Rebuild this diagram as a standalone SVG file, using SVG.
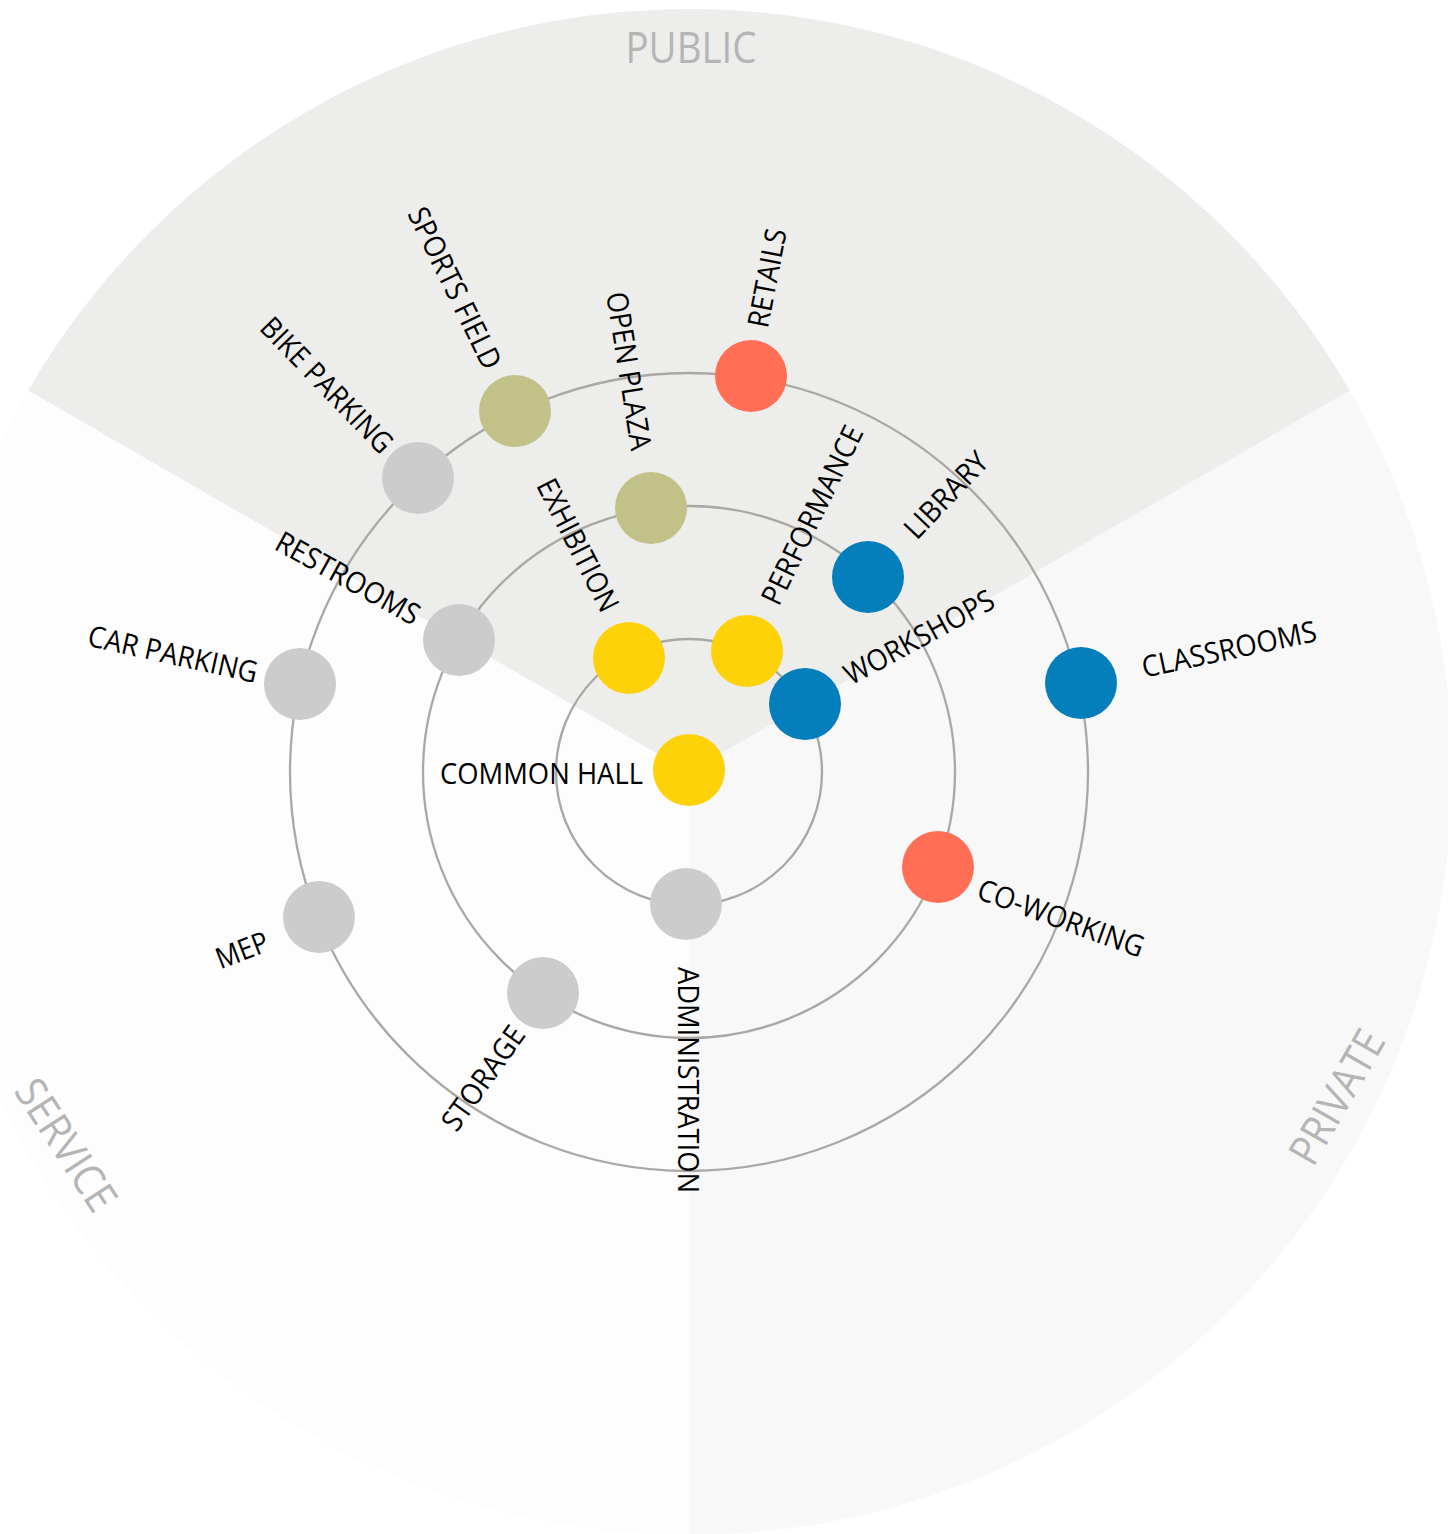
<svg xmlns="http://www.w3.org/2000/svg" width="1448" height="1534" viewBox="0 0 1448 1534">
<style>
.ring{fill:none;stroke:#aaa8a5;stroke-width:2.3}
.lbl{font-family:"Open Sans","Liberation Sans",sans-serif;font-size:29.5px;fill:#000;text-anchor:middle}
.zone{font-family:"Open Sans","Liberation Sans",sans-serif;font-size:43px;fill:#b5b5b5;text-anchor:middle}
.yellow{fill:#fed208}
.olive{fill:#c2c288}
.red{fill:#ff6e55}
.blue{fill:#047fbc}
.gray{fill:#cccccc}
</style>
<rect width="1448" height="1534" fill="#ffffff"/>
<g id="sectors">
<path id="sector-service" d="M689,772 L689,1535 A763,763 0 0 1 28.2,390.5 Z" fill="#fdfdfd"/>
<path id="sector-private" d="M689,772 L1349.8,390.5 A763,763 0 0 1 689,1535 Z" fill="#f8f8f8"/>
<path id="sector-public" d="M689,772 L28.2,390.5 A763,763 0 0 1 1349.8,390.5 Z" fill="#ededeb"/>
</g>
<g id="zone-labels">
<text class="zone" x="691" y="63" textLength="131" lengthAdjust="spacingAndGlyphs">PUBLIC</text>
<text class="zone" transform="translate(66,1145) rotate(57)" x="0" y="15" textLength="148" lengthAdjust="spacingAndGlyphs">SERVICE</text>
<text class="zone" transform="translate(1337,1097) rotate(-60)" x="0" y="15" textLength="147" lengthAdjust="spacingAndGlyphs">PRIVATE</text>
</g>
<g id="connectors">
<circle class="ring" cx="689" cy="772" r="133"/>
<circle class="ring" cx="689" cy="772" r="266"/>
<circle class="ring" cx="689" cy="772" r="399"/>
</g>
<g id="node-common-hall"><circle class="yellow" cx="689" cy="770" r="36"/><text class="lbl" x="541.5" y="784" textLength="203" lengthAdjust="spacingAndGlyphs">COMMON HALL</text></g>
<g id="node-exhibition"><circle class="yellow" cx="629" cy="658" r="36"/><text class="lbl" transform="translate(578,545) rotate(63)" x="0" y="10.5" textLength="145" lengthAdjust="spacingAndGlyphs">EXHIBITION</text></g>
<g id="node-performance"><circle class="yellow" cx="747" cy="651" r="36"/><text class="lbl" transform="translate(812,515) rotate(-64)" x="0" y="10.5" textLength="195" lengthAdjust="spacingAndGlyphs">PERFORMANCE</text></g>
<g id="node-workshops"><circle class="blue" cx="805" cy="704" r="36"/><text class="lbl" transform="translate(919,637) rotate(-28.5)" x="0" y="10.5" textLength="166" lengthAdjust="spacingAndGlyphs">WORKSHOPS</text></g>
<g id="node-administration"><circle class="gray" cx="686" cy="904" r="36"/><text class="lbl" transform="translate(688,1080) rotate(90)" x="0" y="10.5" textLength="226" lengthAdjust="spacingAndGlyphs">ADMINISTRATION</text></g>
<g id="node-open-plaza"><circle class="olive" cx="651" cy="508" r="36"/><text class="lbl" transform="translate(629,371) rotate(81)" x="0" y="10.5" textLength="160" lengthAdjust="spacingAndGlyphs">OPEN PLAZA</text></g>
<g id="node-library"><circle class="blue" cx="868" cy="577" r="36"/><text class="lbl" transform="translate(946,495) rotate(-46.5)" x="0" y="10.5" textLength="107" lengthAdjust="spacingAndGlyphs">LIBRARY</text></g>
<g id="node-restrooms"><circle class="gray" cx="459" cy="640" r="36"/><text class="lbl" transform="translate(348,578) rotate(29)" x="0" y="10.5" textLength="160" lengthAdjust="spacingAndGlyphs">RESTROOMS</text></g>
<g id="node-co-working"><circle class="red" cx="938" cy="867" r="36"/><text class="lbl" transform="translate(1061,918) rotate(20)" x="0" y="10.5" textLength="175" lengthAdjust="spacingAndGlyphs">CO-WORKING</text></g>
<g id="node-storage"><circle class="gray" cx="543" cy="993" r="36"/><text class="lbl" transform="translate(483,1078) rotate(-54.5)" x="0" y="10.5" textLength="121" lengthAdjust="spacingAndGlyphs">STORAGE</text></g>
<g id="node-retails"><circle class="red" cx="751" cy="376" r="36"/><text class="lbl" transform="translate(767,278) rotate(-79)" x="0" y="10.5" textLength="100" lengthAdjust="spacingAndGlyphs">RETAILS</text></g>
<g id="node-sports-field"><circle class="olive" cx="515" cy="411" r="36"/><text class="lbl" transform="translate(455,288) rotate(64)" x="0" y="10.5" textLength="176" lengthAdjust="spacingAndGlyphs">SPORTS FIELD</text></g>
<g id="node-bike-parking"><circle class="gray" cx="418" cy="478" r="36"/><text class="lbl" transform="translate(327,385) rotate(46)" x="0" y="10.5" textLength="176" lengthAdjust="spacingAndGlyphs">BIKE PARKING</text></g>
<g id="node-car-parking"><circle class="gray" cx="300" cy="684" r="36"/><text class="lbl" transform="translate(173,654) rotate(12.5)" x="0" y="10.5" textLength="173" lengthAdjust="spacingAndGlyphs">CAR PARKING</text></g>
<g id="node-classrooms"><circle class="blue" cx="1081" cy="683" r="36"/><text class="lbl" transform="translate(1229,649) rotate(-12)" x="0" y="10.5" textLength="178" lengthAdjust="spacingAndGlyphs">CLASSROOMS</text></g>
<g id="node-mep"><circle class="gray" cx="319" cy="917" r="36"/><text class="lbl" transform="translate(242,950) rotate(-21)" x="0" y="10.5" textLength="54" lengthAdjust="spacingAndGlyphs">MEP</text></g>
</svg>
